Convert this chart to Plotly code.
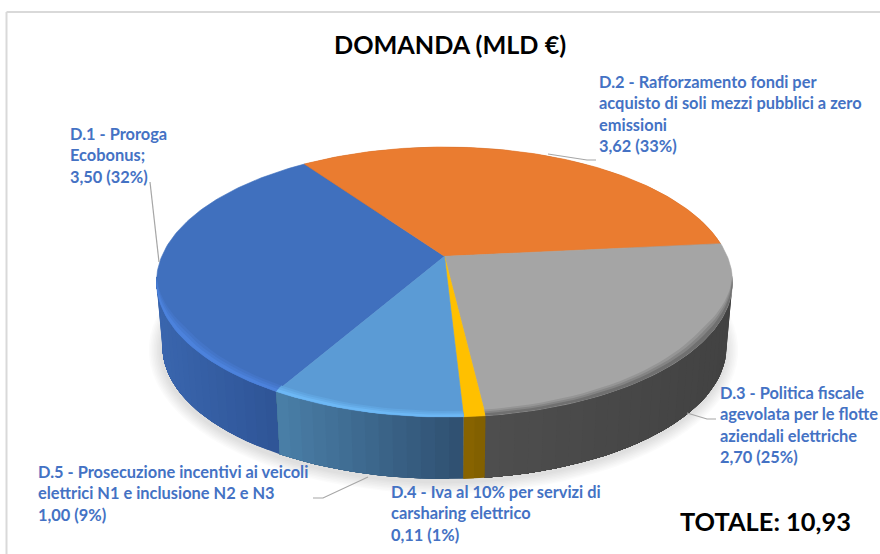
import math
import plotly.graph_objects as go

# ---- data -------------------------------------------------------------
categories = ["D.1", "D.2", "D.3", "D.4", "D.5"]
values = [3.50, 3.62, 2.70, 0.11, 1.00]
names = [
    ["D.1 - Proroga", "Ecobonus;"],
    ["D.2 - Rafforzamento fondi per", "acquisto di soli mezzi pubblici a zero", "emissioni"],
    ["D.3 - Politica fiscale", "agevolata per le flotte", "aziendali elettriche"],
    ["D.4 - Iva al 10% per servizi di", "carsharing elettrico"],
    ["D.5 - Prosecuzione incentivi ai veicoli", "elettrici N1 e inclusione N2 e N3"],
]
title_text = "DOMANDA (MLD €)"
total_label = "TOTALE:"

# ---- styles and geometry ---------------------------------------------
top_colors = ["#4070BE", "#EA7C30", "#A5A5A5", "#FFC000", "#5B9BD5"]
# wall shades from the left end to the right end of each visible wall part
wall_left = ["#3A66AE", "#A85620", "#4E4E4E", "#8A6500", "#4A7FA8"]
wall_right = ["#2E5496", "#A85620", "#424242", "#7F5F00", "#2F4F70"]
rim_colors = ["#4C82DC", "#EA7C30", "#707070", "#FFC000", "#6DB8F5"]
LABEL = "#4472C4"
FONT = "Lato, Carlito, Calibri, sans-serif"

W, H = 880, 554
CX, TOP_CY, TOP_RX, TOP_RY = 444.5, 282.0, 288.0, 135.0
BOT_CY, BOT_RX, BOT_RY = 347.0, 282.0, 132.0
BOOST = 0.19
START = 209.8

label_pos = [(68, 133), (597, 81), (718, 392), (389, 491), (36, 471)]
LINE = 21.6
leaders = [
    [(150, 182), (159, 262)],
    [(548, 154), (587, 160), (596, 160)],
    [(687, 413), (707, 419), (716, 419)],
    [],
    [(368, 477), (323, 498), (313, 498)],
]


def disc(theta):
    """Clockwise angle from the top of the pie -> ellipse-space unit disc (perspective)."""
    t = math.radians(theta)
    x, y = math.sin(t), math.cos(t)
    d = 1 + BOOST * y
    return x * math.sqrt(1 - BOOST ** 2) / d, (y + BOOST) / d


def top_pt(theta):
    x, y = disc(theta)
    return CX + TOP_RX * x, TOP_CY - TOP_RY * y


def bot_pt(theta):
    x, y = disc(theta)
    return CX + BOT_RX * x, BOT_CY - BOT_RY * y


def mix(a, b, f):
    ca = [int(a[i:i + 2], 16) for i in (1, 3, 5)]
    cb = [int(b[i:i + 2], 16) for i in (1, 3, 5)]
    return "rgb(%d,%d,%d)" % tuple(round(p + (q - p) * f) for p, q in zip(ca, cb))


def poly(fig, pts, fill, line=None):
    xs = [p[0] for p in pts] + [pts[0][0]]
    ys = [p[1] for p in pts] + [pts[0][1]]
    fig.add_trace(go.Scatter(
        x=xs, y=ys, mode="lines", fill="toself", fillcolor=fill,
        line=dict(color=line or "rgba(0,0,0,0)", width=0.6 if line else 0),
        hoverinfo="skip", showlegend=False,
    ))


def frange(a, b, step):
    n = max(1, int(math.ceil((b - a) / step)))
    return [a + (b - a) * i / n for i in range(n + 1)]


total = sum(values)
spans = []
acc = START
for v in values:
    spans.append((acc, acc + 360 * v / total))
    acc += 360 * v / total

fig = go.Figure()

# soft shadow under the pie
for k in range(8, 0, -1):
    pts = []
    for th in range(0, 360, 4):
        t = math.radians(th)
        pts.append((CX - 1 + (BOT_RX + k * 1.6) * math.sin(t),
                    BOT_CY + 3 + (BOT_RY + k * 1.5) * math.cos(t)))
    poly(fig, pts, "rgba(0,0,0,0.016)")

# side wall: overlapping strips along the front of the pie, so no seams show
for i, (a, b) in enumerate(spans):
    ths = [t for t in frange(a, b, 2.5) if disc(t)[1] < 0.08]
    if len(ths) < 2:
        ths = [a, b]
    xs = [top_pt(t)[0] for t in ths]
    lo, hi = min(xs), max(xs)
    for j in range(len(ths) - 1):
        f = ((xs[j] + xs[j + 1]) / 2 - lo) / max(hi - lo, 1)
        c = mix(wall_left[i], wall_right[i], f)
        end = ths[-1]
        # every strip runs on to the slice end; the next strip paints over it
        run = frange(ths[j], end, 2.5)
        poly(fig, [top_pt(t) for t in run] + [bot_pt(t) for t in run[::-1]], c)

# top faces
apex = (CX, TOP_CY - TOP_RY * BOOST)
for i, (a, b) in enumerate(spans):
    pts = [apex] + [top_pt(t) for t in frange(a, b, 1.0)]
    poly(fig, pts, top_colors[i], top_colors[i])

# bevel along the front edge
for i, (a, b) in enumerate(spans):
    if rim_colors[i] == top_colors[i]:
        continue
    for depth, strength in ((6.0, 0.30), (4.2, 0.62), (2.4, 1.0)):
        ths = [t for t in frange(a, b, 2.0) if disc(t)[1] < 0.05]
        if len(ths) < 2:
            continue
        outer = [top_pt(t) for t in ths]
        inner = []
        for t, p in zip(ths, outer):
            s = min(1.0, max(0.0, 0.05 - disc(t)[1]) * 2.2)
            inner.append((p[0] + (CX - p[0]) * 0.005 * depth * s, p[1] - depth * s))
        poly(fig, outer + inner[::-1], mix(top_colors[i], rim_colors[i], strength))

# leader lines
for seg in leaders:
    if seg:
        fig.add_trace(go.Scatter(
            x=[p[0] for p in seg], y=[p[1] for p in seg], mode="lines",
            line=dict(color="#A6A6A6", width=1.2), hoverinfo="skip", showlegend=False,
        ))

# labels
annotations = []
for i, name_lines in enumerate(names):
    pct = round(100 * values[i] / total)
    lines = name_lines + ["%s (%d%%)" % (("%.2f" % values[i]).replace(".", ","), pct)]
    x0, y0 = label_pos[i]
    for k, line in enumerate(lines):
        annotations.append(dict(
            x=x0, y=y0 + k * LINE, xref="x", yref="y", text=line, showarrow=False,
            xanchor="left", yanchor="middle", align="left",
            font=dict(family=FONT, size=16.4, color=LABEL, weight=700),
        ))

annotations.append(dict(
    x=678, y=521, xref="x", yref="y",
    text="%s %s" % (total_label, ("%.2f" % total).replace(".", ",")),
    showarrow=False, xanchor="left", yanchor="middle",
    font=dict(family=FONT, size=25.4, color="#000000", weight=700),
))
annotations.append(dict(
    x=450, y=44, xref="x", yref="y", text=title_text, showarrow=False,
    xanchor="center", yanchor="middle",
    font=dict(family=FONT, size=25.2, color="#000000", weight=700),
))

# chart frame
frame = [
    dict(type="line", xref="x", yref="y", x0=6.5, x1=880, y0=12, y1=12,
         line=dict(color="#D9D9D9", width=2), layer="below"),
    dict(type="line", xref="x", yref="y", x0=6.5, x1=6.5, y0=12, y1=554,
         line=dict(color="#D9D9D9", width=2), layer="below"),
]

fig.update_layout(
    width=W, height=H, margin=dict(l=0, r=0, t=0, b=0),
    paper_bgcolor="#FFFFFF", plot_bgcolor="#FFFFFF",
    xaxis=dict(range=[0, W], visible=False, fixedrange=True),
    yaxis=dict(range=[H, 0], visible=False, fixedrange=True),
    annotations=annotations, shapes=frame, showlegend=False,
)

fig.write_html("out.html", post_script="document.body.style.margin='0';",
               config={"displayModeBar": False})
